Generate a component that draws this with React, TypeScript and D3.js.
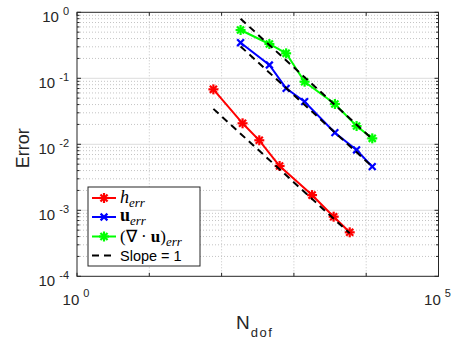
import React from "react";
import * as d3 from "d3";

// Convergence data: degrees of freedom vs. error
const hDofs = [77, 195, 332, 634, 1782, 3548, 5916];
const hErrors = [0.068, 0.0208, 0.0115, 0.00469, 0.0017, 0.0008, 0.000464];

const uDofs = [183, 458, 781, 1406, 3690, 7360, 12130];
const uErrors = [0.346, 0.159, 0.0705, 0.0442, 0.015, 0.0082, 0.00458];
const divErrors = [0.539, 0.331, 0.239, 0.0888, 0.0408, 0.0189, 0.0123];

// Reference lines E = C / N (slope -1 in log-log)
const slopeCoefs = [2.65, 55.7, 146];

const yTickExps = [0, -1, -2, -3, -4];
const xTickExps = [0, 5];

const W = 454;
const H = 347;
const X0 = 77;
const X1 = 438.5;
const Y0 = 12.3;
const Y1 = 276.3;

const SANS = "'Liberation Sans', Arial, Helvetica, sans-serif";
const SERIF = "'Liberation Serif', 'Times New Roman', serif";
const AXIS = "#262626";

type Marker = "star" | "x";

function MarkerGlyph({ x, y, kind, color }: { x: number; y: number; kind: Marker; color: string }) {
  const r = kind === "star" ? 5 : 4.8;
  const angles = kind === "star" ? [0, 45, 90, 135] : [45, 135];
  return (
    <g stroke={color} strokeWidth={2.2} strokeLinecap="butt">
      {angles.map((a) => {
        const t = (a * Math.PI) / 180;
        const dx = r * Math.cos(t);
        const dy = r * Math.sin(t);
        return <line key={a} x1={x - dx} y1={y - dy} x2={x + dx} y2={y + dy} />;
      })}
    </g>
  );
}

export default function App() {
  const x = d3.scaleLog().domain([1, 1e5]).range([X0, X1]);
  const y = d3.scaleLog().domain([1e-4, 1]).range([Y1, Y0]);

  const series = [
    { dofs: hDofs, errs: hErrors, color: "#ff0000", marker: "star" as Marker },
    { dofs: uDofs, errs: uErrors, color: "#0000ff", marker: "x" as Marker },
    { dofs: uDofs, errs: divErrors, color: "#00ff00", marker: "star" as Marker },
  ];

  const line = d3
    .line<[number, number]>()
    .x((d) => x(d[0]))
    .y((d) => y(d[1]));

  const minorY: number[] = [];
  for (let k = -4; k < 0; k++) {
    for (let m = 2; m <= 9; m++) minorY.push(m * Math.pow(10, k));
  }
  const decadesY = yTickExps.map((e) => Math.pow(10, e));
  const decadesX = [1, 10, 100, 1000, 10000, 100000];

  const slopeLines = series.map((s, i) => {
    const n0 = d3.min(s.dofs) as number;
    const n1 = d3.max(s.dofs) as number;
    const c = slopeCoefs[i];
    return line([
      [n0, c / n0],
      [n1, c / n1],
    ]);
  });

  const legendRows = [198, 217, 236.5, 255.5];

  return (
    <svg width={W} height={H} style={{ position: "absolute", left: 0, top: 0 }}>
      <rect x={0} y={0} width={W} height={H} fill="#fff" />
      <rect x={X0} y={Y0} width={X1 - X0} height={Y1 - Y0} fill="#fff" />

      {/* minor grid */}
      <g stroke="#c4c4c4" strokeWidth={1} strokeDasharray="1,2">
        {minorY.map((v) => (
          <line key={"my" + v} x1={X0} x2={X1} y1={y(v)} y2={y(v)} />
        ))}
        {decadesX.slice(1, -1).map((v) => (
          <line key={"mx" + v} x1={x(v)} x2={x(v)} y1={Y0} y2={Y1} />
        ))}
      </g>
      {/* major grid */}
      <g stroke="#dcdcdc" strokeWidth={1}>
        {decadesY.slice(1, -1).map((v) => (
          <line key={"gy" + v} x1={X0} x2={X1} y1={y(v)} y2={y(v)} />
        ))}
      </g>

      {/* data */}
      {series.map((s, i) => (
        <g key={"s" + i}>
          <path
            d={line(s.dofs.map((n, j) => [n, s.errs[j]] as [number, number])) || ""}
            fill="none"
            stroke={s.color}
            strokeWidth={2}
          />
          {s.dofs.map((n, j) => (
            <MarkerGlyph key={j} x={x(n)} y={y(s.errs[j])} kind={s.marker} color={s.color} />
          ))}
        </g>
      ))}

      {/* slope reference lines */}
      {slopeLines.map((d, i) => (
        <path key={"ref" + i} d={d || ""} fill="none" stroke="#000" strokeWidth={2} strokeDasharray="7,5" />
      ))}

      {/* axes box and ticks */}
      <g stroke={AXIS} strokeWidth={1}>
        <rect x={X0} y={Y0} width={X1 - X0} height={Y1 - Y0} fill="none" />
        {decadesY.map((v) => (
          <g key={"ty" + v}>
            <line x1={X0} x2={X0 + 4} y1={y(v)} y2={y(v)} />
            <line x1={X1} x2={X1 - 4} y1={y(v)} y2={y(v)} />
          </g>
        ))}
        {minorY.map((v) => (
          <g key={"tmy" + v}>
            <line x1={X0} x2={X0 + 2.5} y1={y(v)} y2={y(v)} />
            <line x1={X1} x2={X1 - 2.5} y1={y(v)} y2={y(v)} />
          </g>
        ))}
        {decadesX.map((v) => (
          <g key={"tx" + v}>
            <line x1={x(v)} x2={x(v)} y1={Y1} y2={Y1 - 3.5} />
            <line x1={x(v)} x2={x(v)} y1={Y0} y2={Y0 + 3.5} />
          </g>
        ))}
      </g>

      {/* y tick labels */}
      <g fill={AXIS} fontFamily={SANS}>
        {yTickExps.map((e) => (
          <text key={"yl" + e} x={69} y={y(Math.pow(10, e)) + 10} textAnchor="end" fontSize={15}>
            10
            <tspan dx={4} dy={-7} fontSize={11}>
              {e === 0 ? "0" : String(e)}
            </tspan>
          </text>
        ))}
        {xTickExps.map((e) => (
          <text key={"xl" + e} x={x(Math.pow(10, e)) - 1} y={305} textAnchor="middle" fontSize={15}>
            10
            <tspan dx={4} dy={-8} fontSize={11}>
              {String(e)}
            </tspan>
          </text>
        ))}
      </g>

      {/* axis labels */}
      <text x={236} y={328.5} fill={AXIS} fontFamily={SANS} fontSize={19}>
        N
        <tspan dx={1} dy={8.5} fontSize={13} letterSpacing={1.5}>
          dof
        </tspan>
      </text>
      <text
        transform={`translate(28.5, ${(Y0 + Y1) / 2 + 4}) rotate(-90)`}
        textAnchor="middle"
        fill={AXIS}
        fontFamily={SANS}
        fontSize={18}
      >
        Error
      </text>

      {/* legend */}
      <g>
        <rect x={88} y={187} width={112} height={79} fill="#fff" stroke={AXIS} strokeWidth={1} />
        {series.map((s, i) => (
          <g key={"lg" + i}>
            <line x1={92} x2={116} y1={legendRows[i]} y2={legendRows[i]} stroke={s.color} strokeWidth={2} />
            <MarkerGlyph x={104} y={legendRows[i]} kind={s.marker} color={s.color} />
          </g>
        ))}
        <line x1={92} x2={116} y1={legendRows[3]} y2={legendRows[3]} stroke="#000" strokeWidth={2} strokeDasharray="7,5" />

        <text x={120} y={legendRows[0] + 4.5} fontFamily={SERIF} fontSize={18} fill="#000">
          <tspan fontStyle="italic">h</tspan>
          <tspan fontStyle="italic" fontSize={13} dy={4}>err</tspan>
        </text>
        <text x={120} y={legendRows[1] + 4} fontFamily={SERIF} fontSize={18} fill="#000">
          <tspan fontWeight="bold">u</tspan>
          <tspan fontStyle="italic" fontSize={13} dy={4}>err</tspan>
        </text>
        <text x={120} y={legendRows[2] + 5} fontFamily={SERIF} fontSize={17} fill="#000">
          <tspan>(∇ · </tspan>
          <tspan fontWeight="bold">u</tspan>
          <tspan>)</tspan>
          <tspan fontStyle="italic" fontSize={13} dy={4}>err</tspan>
        </text>
        <text x={120} y={legendRows[3] + 5.5} fontFamily={SANS} fontSize={14.5} fill="#000">
          Slope = 1
        </text>
      </g>
    </svg>
  );
}
